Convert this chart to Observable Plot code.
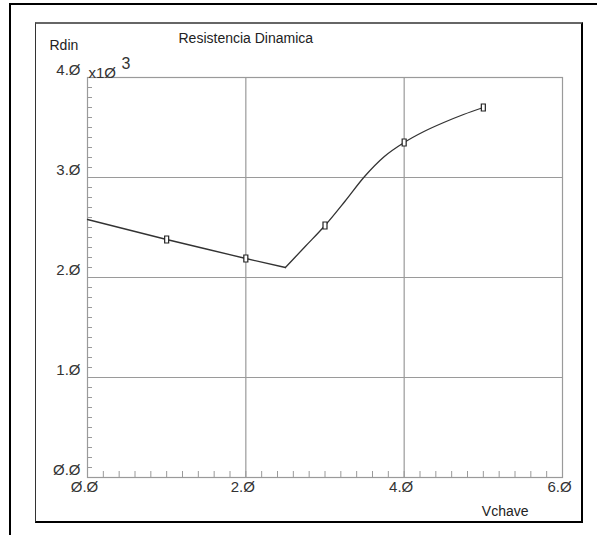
<!DOCTYPE html>
<html><head><meta charset="utf-8">
<script src="https://cdn.jsdelivr.net/npm/d3@7"></script>
<script src="https://cdn.jsdelivr.net/npm/@observablehq/plot@0.6"></script>
<style>
body{margin:0;background:#fff;}
#wrap{position:relative;width:597px;height:535px;overflow:hidden;}
#outer{position:absolute;left:9px;top:3px;width:700px;height:700px;border-top:2px solid #000;border-left:2px solid #000;}
#inner{position:absolute;left:35px;top:22px;width:545px;height:497px;border-top:2px solid #666;border-left:1px solid #333;border-right:2px solid #000;border-bottom:2px solid #000;}
#wrap svg{position:absolute;left:0;top:0;}
</style></head>
<body>
<div id="wrap"><div id="outer"></div><div id="inner"></div></div>
<script>
// Curve: falling branch and rising branch
const fallV = [0, 0.5, 1, 1.5, 2, 2.5];
const fallR = [2580, 2480, 2380, 2285, 2190, 2100];
const riseV = [2.5, 2.75, 3, 3.25, 3.5, 3.75, 4, 4.25, 4.5, 4.75, 5];
const riseR = [2100, 2310, 2520, 2760, 3010, 3210, 3350, 3460, 3550, 3630, 3700];
// Marked points
const markV = [1, 2, 3, 4, 5];
const markR = [2380, 2190, 2520, 3350, 3700];
// Axes
const xMajor = [0, 2, 4, 6];
const xTickLabels = ["Ø.Ø", "2.Ø", "4.Ø", "6.Ø"];
const yMajor = [0, 1000, 2000, 3000, 4000];
const yTickLabels = ["Ø.Ø", "1.Ø", "2.Ø", "3.Ø", "4.Ø"];
const xGrid = [2, 4];
const yGrid = [1000, 2000, 3000];
const xMinor = d3.range(0, 31).map(i => i * 0.2);
const yMinor = d3.range(0, 41).map(i => i * 100);
const title = "Resistencia Dinamica";
const yLabel = "Rdin";
const xLabel = "Vchave";
const expLabel = "x1Ø";
const expPower = "3";

const fall = fallV.map((v, i) => ({v, r: fallR[i]}));
const rise = riseV.map((v, i) => ({v, r: riseR[i]}));
const marks = markV.map((v, i) => ({v, r: markR[i]}));

const boxSymbol = {draw(ctx) { ctx.rect(-2, -3.5, 4, 7); }};
const font = "Liberation Sans, Arial, sans-serif";
const gray = "#9a9a9a";

const chart = Plot.plot({
  width: 597, height: 535,
  marginLeft: 87, marginRight: 35, marginTop: 77, marginBottom: 58,
  style: {fontFamily: font, fontSize: "15px", color: "#222", background: "transparent"},
  x: {domain: [0, 6]},
  y: {domain: [0, 4000]},
  marks: [
    Plot.gridX(xGrid, {stroke: gray, strokeOpacity: 1, strokeWidth: 1.2}),
    Plot.gridY(yGrid, {stroke: gray, strokeOpacity: 1, strokeWidth: 1.2}),
    Plot.frame({stroke: gray, strokeWidth: 1.2}),
    Plot.axisX(xMinor, {tickSize: -6, tickFormat: () => "", stroke: gray, label: null}),
    Plot.axisY(yMinor, {tickSize: -5, tickFormat: () => "", stroke: gray, label: null}),
    Plot.axisX(xMajor, {tickSize: 0, tickPadding: 4, dx: -3, tickFormat: (d, i) => xTickLabels[i], label: null, fill: "#333"}),
    Plot.axisY(yMajor, {tickSize: 0, tickPadding: 7, dy: -7, tickFormat: (d, i) => yTickLabels[i], label: null, fill: "#333"}),
    Plot.line(fall, {x: "v", y: "r", stroke: "#333", strokeWidth: 1.3}),
    Plot.line(rise, {x: "v", y: "r", stroke: "#333", strokeWidth: 1.3, curve: "monotone-x"}),
    Plot.dot(marks, {x: "v", y: "r", symbol: boxSymbol, fill: "white", stroke: "#222", strokeWidth: 1.2}),
    Plot.text([yLabel], {frameAnchor: "top-left", text: d => d, textAnchor: "start", lineAnchor: "bottom", dx: -38, dy: -28, fontSize: 14, fill: "#222"}),
    Plot.text([title], {frameAnchor: "top-left", text: d => d, textAnchor: "start", lineAnchor: "bottom", dx: 91, dy: -35, fontSize: 14, fill: "#222", letterSpacing: "0.9px"}),
    Plot.text([expLabel], {frameAnchor: "top-left", text: d => d, textAnchor: "start", lineAnchor: "bottom", dx: 1, dy: 0, fontSize: 15, fill: "#333"}),
    Plot.text([expPower], {frameAnchor: "top-left", text: d => d, textAnchor: "start", lineAnchor: "bottom", dx: 34, dy: -9, fontSize: 16, fill: "#333"}),
    Plot.text([xLabel], {frameAnchor: "bottom-right", text: d => d, textAnchor: "end", lineAnchor: "bottom", dx: -34, dy: 38, fontSize: 14, fill: "#222"})
  ]
});
document.getElementById("wrap").appendChild(chart);
</script>
</body></html>
